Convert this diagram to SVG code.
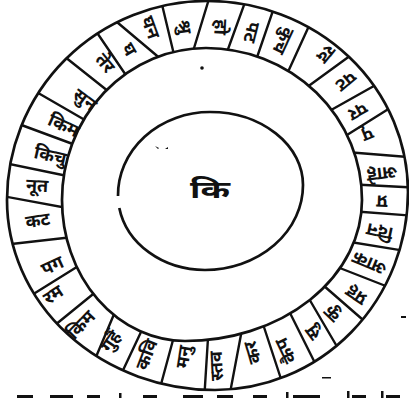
<svg xmlns="http://www.w3.org/2000/svg" width="409" height="398" viewBox="0 0 409 398">
<style>
.ring{fill:none;stroke:#111;stroke-width:2.7}
.dv{stroke:#111;stroke-width:2.4;stroke-linecap:round}
.t{font-family:'Noto Sans Devanagari','Noto Serif Devanagari','Lohit Devanagari','FreeSerif','Noto Sans',sans-serif;font-size:18px;font-weight:bold;fill:#111;text-anchor:middle;dominant-baseline:central}
.c{font-size:24px}
.mk{fill:#111}
</style>
<defs>
<clipPath id="ringclip">
<path clip-rule="evenodd" d="M207,1 A201,191 0 0 1 408,192 A193,198 0 0 1 215,390 A208,190 0 0 1 7,200 A200,199 0 0 1 207,1 Z M206,48 A156,152 0 0 1 362,200 A177,141 0 0 1 185,341 A123,141 0 0 1 62,200 A144,152 0 0 1 206,48 Z"/>
</clipPath>
</defs>
<rect width="409" height="398" fill="#fff"/>
<g id="outer-ring">
<path class="ring" d="M207,1 A201,191 0 0 1 408,192 A193,198 0 0 1 215,390 A208,190 0 0 1 7,200 A200,199 0 0 1 207,1 Z"/>
<path class="ring" d="M206,48 A156,152 0 0 1 362,200 A177,141 0 0 1 185,341 A123,141 0 0 1 62,200 A144,152 0 0 1 206,48 Z"/>
</g>
<g id="center">
<path class="ring" d="M119.3,208 A87,75 0 0 0 205,270 A98,85 0 0 0 303,185 A93,73 0 0 0 210,112 A92,83 0 0 0 118,196"/>
<text class="t c" x="210" y="192" textLength="40" lengthAdjust="spacingAndGlyphs">कि</text>
</g>
<g id="connectors" clip-path="url(#ringclip)">
<line class="dv" x1="44" y1="334" x2="103" y2="286"/>
<line class="dv" x1="19" y1="303" x2="88" y2="260"/>
<line class="dv" x1="2" y1="245" x2="82" y2="236"/>
<line class="dv" x1="-3" y1="195" x2="78" y2="210"/>
<line class="dv" x1="0" y1="162" x2="77" y2="178"/>
<line class="dv" x1="16" y1="123" x2="89" y2="150"/>
<line class="dv" x1="33" y1="90" x2="97" y2="127"/>
<line class="dv" x1="55" y1="49" x2="123" y2="103"/>
<line class="dv" x1="87" y1="18" x2="134" y2="87"/>
<line class="dv" x1="105" y1="12" x2="175" y2="71"/>
<line class="dv" x1="159" y1="-8" x2="176" y2="63"/>
<line class="dv" x1="212" y1="-11" x2="191" y2="58"/>
<line class="dv" x1="248" y1="-6" x2="223" y2="63"/>
<line class="dv" x1="278" y1="-4" x2="253" y2="69"/>
<line class="dv" x1="314" y1="15" x2="282" y2="85"/>
<line class="dv" x1="358" y1="50" x2="299" y2="93"/>
<line class="dv" x1="381" y1="82" x2="324" y2="114"/>
<line class="dv" x1="398" y1="103" x2="339" y2="140"/>
<line class="dv" x1="421" y1="158" x2="346" y2="152"/>
<line class="dv" x1="421" y1="188" x2="346" y2="184"/>
<line class="dv" x1="416" y1="216" x2="350" y2="211"/>
<line class="dv" x1="412" y1="252" x2="338" y2="240"/>
<line class="dv" x1="396" y1="290" x2="327" y2="263"/>
<line class="dv" x1="370" y1="326" x2="316" y2="279"/>
<line class="dv" x1="339" y1="350" x2="308" y2="297"/>
<line class="dv" x1="318" y1="369" x2="286" y2="305"/>
<line class="dv" x1="282" y1="382" x2="261" y2="318"/>
<line class="dv" x1="230" y1="393" x2="243" y2="324"/>
<line class="dv" x1="204" y1="402" x2="209" y2="322"/>
<line class="dv" x1="160" y1="388" x2="176" y2="329"/>
<line class="dv" x1="117" y1="383" x2="149" y2="315"/>
<line class="dv" x1="93" y1="364" x2="120" y2="300"/>
</g>
<g id="s1"><text class="t" transform="translate(54,296) rotate(-33)">रम</text></g>
<g id="s2"><text class="t" transform="translate(53,267) rotate(-25)">पग</text></g>
<g id="s3"><text class="t" transform="translate(38,222) rotate(-9)">कट</text></g>
<g id="s4"><text class="t" transform="translate(37,187) rotate(3)">नूत</text></g>
<g id="s5"><text class="t" transform="translate(50,157) rotate(13)">किचु</text></g>
<g id="s6"><text class="t" transform="translate(63,127) rotate(25)">किम</text></g>
<g id="s7"><text class="t" transform="translate(84,101) rotate(37)">सुन</text></g>
<g id="s8"><text class="t" transform="translate(104,64) rotate(51)">तेर</text></g>
<g id="s9"><text class="t" transform="translate(128,50) rotate(60)">घ</text></g>
<g id="s10"><text class="t" transform="translate(149,28) rotate(70)">घन</text></g>
<g id="s11"><text class="t" transform="translate(183,27) rotate(81)">श्रु</text></g>
<g id="s12"><text class="t" transform="translate(219,27) rotate(93)">हो</text></g>
<g id="s13"><text class="t" transform="translate(250,32) rotate(104)">पट</text></g>
<g id="s14"><text class="t" transform="translate(282,40) rotate(115)">कुच</text></g>
<g id="s15"><text class="t" transform="translate(325,53) rotate(129)">रद</text></g>
<g id="s16"><text class="t" transform="translate(345,80) rotate(140)">पट</text></g>
<g id="s17"><text class="t" transform="translate(357,110) rotate(150)">पर</text></g>
<g id="s18"><text class="t" transform="translate(367,133) rotate(158)">पृ</text></g>
<g id="s19"><text class="t" transform="translate(382,172) rotate(173)">आहे</text></g>
<g id="s20"><text class="t" transform="translate(382,200) rotate(182)">प्र</text></g>
<g id="s21"><text class="t" transform="translate(380,230) rotate(192)">दिन</text></g>
<g id="s22"><text class="t" transform="translate(370,262) rotate(203)">आक</text></g>
<g id="s23"><text class="t" transform="translate(357,294) rotate(214)">प्रह</text></g>
<g id="s24"><text class="t" transform="translate(333,313) rotate(224)">कु</text></g>
<g id="s25"><text class="t" transform="translate(314,332) rotate(233)">सु</text></g>
<g id="s26"><text class="t" transform="translate(287,350) rotate(244)">कैप</text></g>
<g id="s27"><text class="t" transform="translate(254,352) rotate(254)">कर</text></g>
<g id="s28"><text class="t" transform="translate(218,366) rotate(267)">स्तव</text></g>
<g id="s29"><text class="t" transform="translate(185,357) rotate(279)">मनु</text></g>
<g id="s30"><text class="t" transform="translate(148,355) rotate(291)">कवि</text></g>
<g id="s31"><text class="t" transform="translate(112,342) rotate(304)">गुहैं</text></g>
<g id="s32"><text class="t" transform="translate(82,326) rotate(314)">किम</text></g>
<g id="marks">
<circle class="mk" cx="202" cy="68" r="1.8"/>
<path class="mk" d="M155,146 l4,2 l-1,1 z M165,149 l3,-2 l0,2 z"/>
<rect class="mk" x="401" y="316" width="5" height="2"/>
<rect class="mk" x="322" y="377" width="9" height="1.5"/>
<rect class="mk" x="17" y="395" width="16" height="3"/>
<rect class="mk" x="50" y="395" width="23" height="3"/>
<rect class="mk" x="87" y="395" width="13" height="3"/>
<rect class="mk" x="119" y="393" width="2.5" height="5"/>
<rect class="mk" x="143" y="395" width="14" height="3"/>
<rect class="mk" x="183" y="395" width="20" height="3"/>
<rect class="mk" x="217" y="395" width="16" height="3"/>
<rect class="mk" x="253" y="395" width="14" height="3"/>
<rect class="mk" x="286" y="392" width="2.5" height="6"/>
<rect class="mk" x="293" y="395" width="27" height="3"/>
<rect class="mk" x="347" y="391" width="2.5" height="7"/>
<rect class="mk" x="352" y="395" width="14" height="3"/>
<rect class="mk" x="381" y="391" width="2.5" height="7"/>
<rect class="mk" x="386" y="395" width="14" height="3"/>
</g>
</svg>
